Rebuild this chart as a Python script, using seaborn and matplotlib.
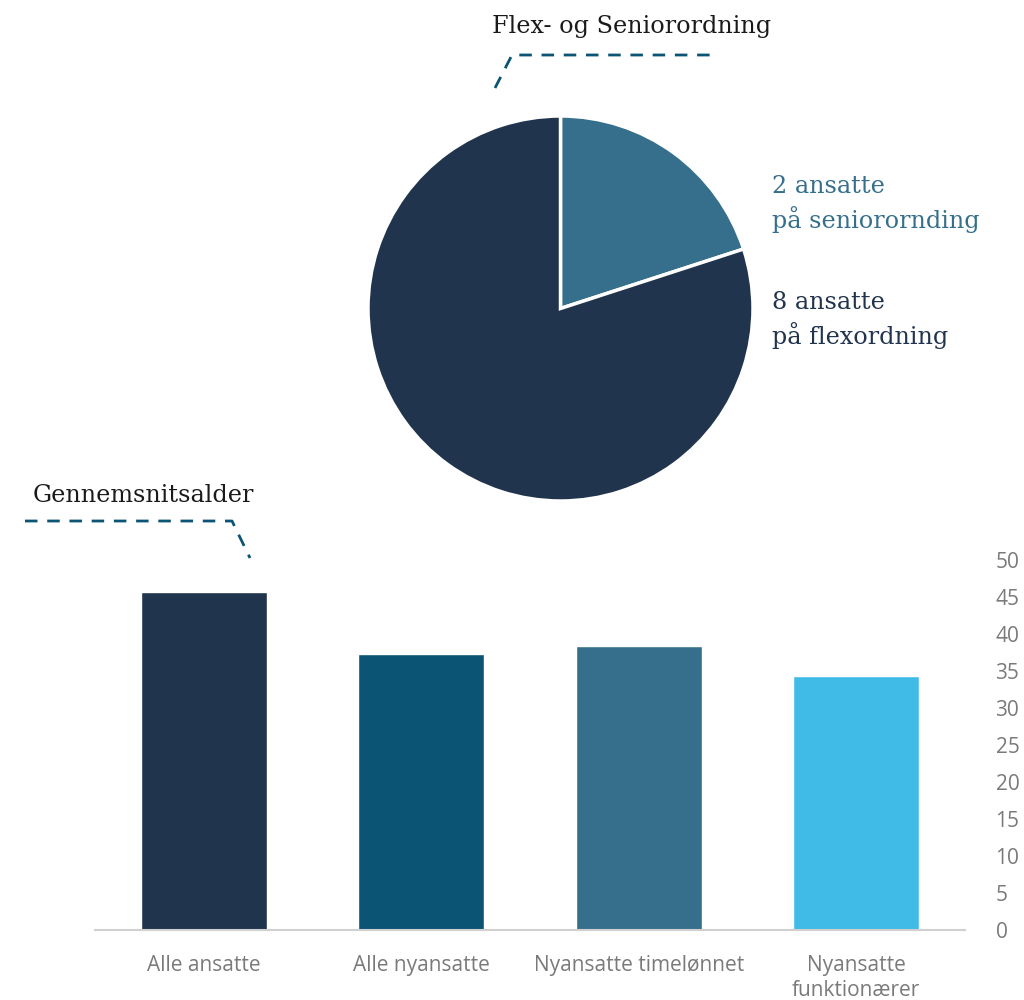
import matplotlib
matplotlib.use("Agg")
import matplotlib.pyplot as plt
from matplotlib.lines import Line2D
import seaborn as sns
import pandas as pd

# ---- data ----
pie_labels = ["2 ansatte\npå seniorornding", "8 ansatte\npå flexordning"]
pie_values = [2, 8]
pie_colors = ["#356F8C", "#21344D"]

bar_categories = ["Alle ansatte", "Alle nyansatte", "Nyansatte timelønnet", "Nyansatte\nfunktionærer"]
bar_values = [45.7, 37.3, 38.4, 34.3]
bar_colors = ["#21344D", "#0B5473", "#356F8C", "#40BBE8"]
y_ticks = [0, 5, 10, 15, 20, 25, 30, 35, 40, 45, 50]

pie_title = "Flex- og Seniorordning"
bar_title = "Gennemsnitsalder"

sns.set_theme(style="white")
plt.rcParams["font.family"] = ["Open Sans", "DejaVu Sans"]

W, H = 1024, 1000
fig = plt.figure(figsize=(W / 100, H / 100), dpi=100)

def fx(px):
    return px / W

def fy(py):
    return 1 - py / H

serif = ["DejaVu Serif"]
tfs = 17.2

# ---- pie ----
axp = fig.add_axes([fx(368), fy(501), fx(385), 385 / H])
axp.pie(pie_values, colors=pie_colors, startangle=90, counterclock=False,
        wedgeprops=dict(edgecolor="white", linewidth=2.5))
axp.set_xlim(-1.0, 1.0)
axp.set_ylim(-1.0, 1.0)
axp.set_aspect("equal")
axp.axis("off")

fig.text(fx(772), fy(204), pie_labels[0], color=pie_colors[0], fontsize=tfs,
         family=serif, va="center", ha="left", linespacing=1.38)
fig.text(fx(772), fy(320), pie_labels[1], color=pie_colors[1], fontsize=tfs,
         family=serif, va="center", ha="left", linespacing=1.38)

fig.text(fx(492), fy(27), pie_title, color="#1a1a1a", fontsize=tfs, family=serif,
         va="center", ha="left")
dash_col = "#0B5473"
fig.add_artist(Line2D([fx(495), fx(512), fx(718)], [fy(88), fy(55), fy(55)],
                      transform=fig.transFigure, color=dash_col, lw=2,
                      linestyle=(0, (4.5, 3.5))))

fig.text(fx(33), fy(495), bar_title, color="#1a1a1a", fontsize=tfs, family=serif,
         va="center", ha="left")
fig.add_artist(Line2D([fx(25), fx(232), fx(250)], [fy(521), fy(521), fy(558)],
                      transform=fig.transFigure, color=dash_col, lw=2,
                      linestyle=(0, (4.5, 3.5))))

# ---- bars ----
axb = fig.add_axes([fx(95), fy(930), fx(870), 370 / H])
df = pd.DataFrame({"cat": bar_categories, "val": bar_values})
sns.barplot(data=df, x="cat", y="val", hue="cat", palette=bar_colors,
            width=0.58, legend=False, ax=axb, saturation=1)
axb.set_xlim(-0.5, 3.5)
axb.set_ylim(0, 50)
axb.set_yticks(y_ticks)
axb.yaxis.tick_right()
axb.tick_params(axis="y", length=0, pad=22, labelsize=15, labelcolor="#7a7a7a")
axb.tick_params(axis="x", length=0, pad=18, labelsize=15, labelcolor="#7a7a7a")
for lab in axb.get_xticklabels():
    lab.set_linespacing(1.25)
    lab.set_verticalalignment("top")
axb.set_xlabel("")
axb.set_ylabel("")
for s in ["top", "left", "right"]:
    axb.spines[s].set_visible(False)
axb.spines["bottom"].set_color("#D0D0D0")
axb.spines["bottom"].set_linewidth(1.5)
axb.grid(False)

fig.savefig("out.png", dpi=100, facecolor="white")
